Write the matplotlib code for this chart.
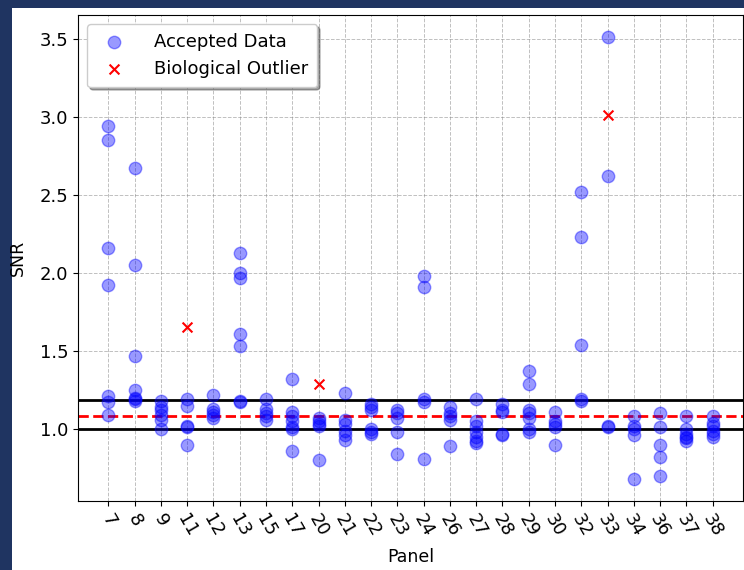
import numpy as np
import matplotlib
matplotlib.use("Agg")
import matplotlib.pyplot as plt
from matplotlib.patches import Rectangle

# panels on the x axis (categorical)
panels = ['7', '8', '9', '11', '12', '13', '15', '17', '20', '21', '22', '23',
          '24', '26', '27', '28', '29', '30', '32', '33', '34', '36', '37', '38']

# accepted SNR values per panel
accepted = {
    '7': [2.94, 2.85, 2.16, 1.92, 1.21, 1.17, 1.09],
    '8': [2.67, 2.05, 1.47, 1.25, 1.20, 1.19, 1.18],
    '9': [1.18, 1.14, 1.12, 1.09, 1.06, 1.00],
    '11': [1.19, 1.15, 1.02, 1.01, 0.90],
    '12': [1.22, 1.13, 1.11, 1.09, 1.07],
    '13': [2.13, 2.00, 1.97, 1.61, 1.53, 1.18, 1.17],
    '15': [1.19, 1.13, 1.10, 1.08, 1.06],
    '17': [1.32, 1.11, 1.08, 1.05, 1.01, 1.00, 0.86],
    '20': [1.07, 1.05, 1.03, 1.02, 0.80],
    '21': [1.23, 1.06, 1.03, 0.99, 0.96, 0.93],
    '22': [1.16, 1.14, 1.12, 1.00, 0.98, 0.97],
    '23': [1.12, 1.10, 1.07, 0.98, 0.84],
    '24': [1.98, 1.91, 1.19, 1.17, 0.81],
    '26': [1.14, 1.10, 1.08, 1.06, 0.89],
    '27': [1.19, 1.05, 1.02, 0.98, 0.95, 0.92, 0.91],
    '28': [1.16, 1.12, 1.11, 0.97, 0.96],
    '29': [1.37, 1.29, 1.12, 1.10, 1.07, 1.00, 0.98],
    '30': [1.11, 1.05, 1.03, 1.01, 0.90],
    '32': [2.52, 2.23, 1.54, 1.19, 1.18],
    '33': [3.51, 2.62, 1.02, 1.01],
    '34': [1.08, 1.02, 1.00, 0.96, 0.68],
    '36': [1.10, 1.01, 0.90, 0.82, 0.70],
    '37': [1.08, 1.00, 0.97, 0.95, 0.94, 0.92],
    '38': [1.08, 1.04, 1.02, 0.99, 0.97, 0.95],
}

outlier_panels = ['11', '20', '33']
outlier_snr = [1.65, 1.29, 3.01]

# reference lines
lower_bound = 1.0
upper_bound = 1.185
mean_snr = 1.083

fig = plt.figure(figsize=(7.44, 5.70), dpi=100, facecolor='#1f3461')
fig.patches.append(Rectangle((12 / 744, 0), 1, (570 - 8) / 570, transform=fig.transFigure,
                             facecolor='white', edgecolor='none', zorder=-10))
ax = fig.add_axes([78 / 744, 1 - 501 / 570, (743 - 78) / 744, (501 - 15) / 570])

xs, ys = [], []
for p in panels:
    for v in accepted[p]:
        xs.append(p)
        ys.append(v)

ax.scatter(xs, ys, color='blue', alpha=0.4, s=80, label='Accepted Data', zorder=3)
ax.scatter(outlier_panels, outlier_snr, color='red', marker='x', s=50,
           label='Biological Outlier', zorder=4)

ax.axhline(upper_bound, color='black', lw=2)
ax.axhline(lower_bound, color='black', lw=2)
ax.axhline(mean_snr, color='red', ls='--', lw=2)

ax.grid(True, ls='--', color='gray', alpha=0.5, lw=0.7)
ax.set_xlabel('Panel', fontsize=12.5, labelpad=6)
ax.set_ylabel('SNR', fontsize=12.5, labelpad=9)
ax.tick_params(axis='both', labelsize=13)
plt.setp(ax.get_xticklabels(), rotation=-60)
ax.legend(loc='upper left', shadow=True, fontsize=13, borderpad=0.5, handletextpad=1.2)

fig.savefig('out.png', dpi=100, facecolor=fig.get_facecolor())
